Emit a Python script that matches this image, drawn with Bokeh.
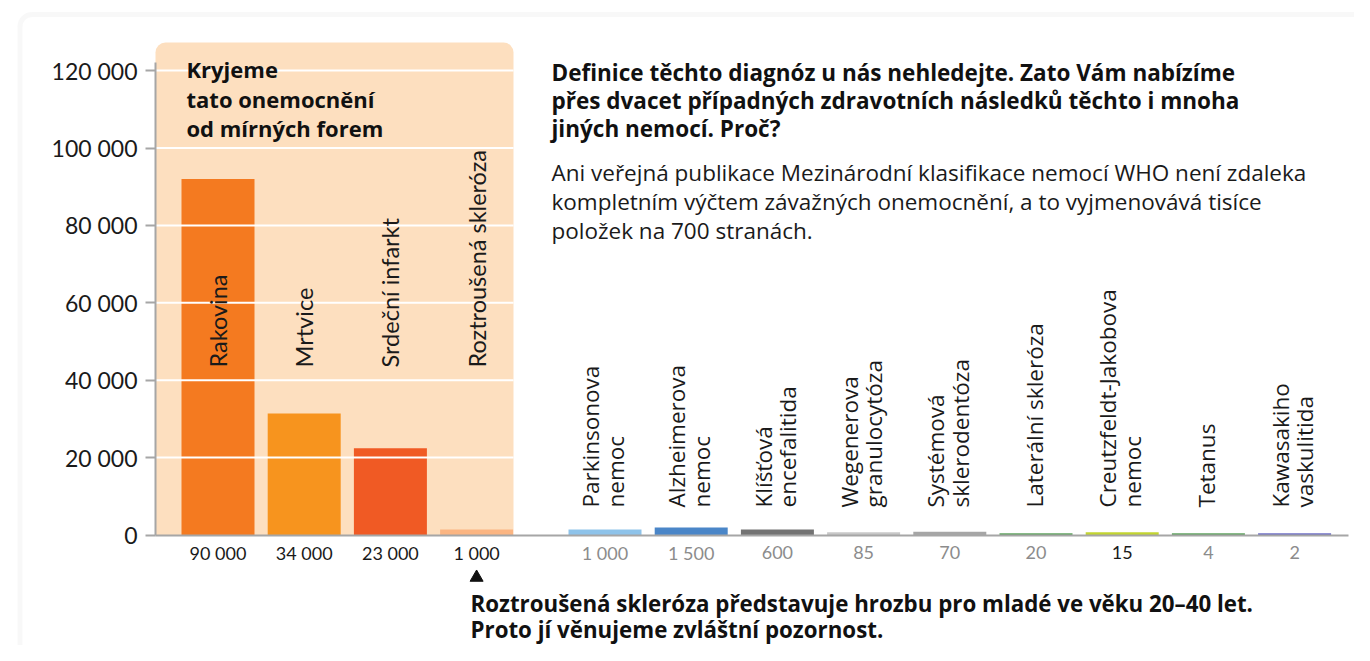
import numpy as np
from bokeh.plotting import figure
from bokeh.models import Range1d, FixedTicker, BoxAnnotation
from bokeh.core.properties import value
from bokeh.embed import file_html
from bokeh.resources import INLINE

# ---------------- data ----------------
main_names = ["Rakovina", "Mrtvice", "Srdeční infarkt", "Roztroušená skleróza"]
main_values = [92000, 31400, 22400, 1400]
main_labels = ["90 000", "34 000", "23 000", "1 000"]

other_names = [["Parkinsonova", "nemoc"], ["Alzheimerova", "nemoc"],
               ["Klíšťová", "encefalitida"], ["Wegenerova", "granulocytóza"],
               ["Systémová", "sklerodentóza"], ["Laterální skleróza"],
               ["Creutzfeldt-Jakobova", "nemoc"], ["Tetanus"],
               ["Kawasakiho", "vaskulitida"]]
other_values = [1400, 1950, 1400, 720, 820, 470, 720, 470, 470]
other_labels = ["1 000", "1 500", "600", "85", "70", "20", "15", "4", "2"]

y_ticks = [0, 20000, 40000, 60000, 80000, 100000, 120000]
y_tick_labels = ["0", "20 000", "40 000", "60 000", "80 000", "100 000", "120 000"]

box_title = ["Kryjeme", "tato onemocnění", "od mírných forem"]
headline = ["Definice těchto diagnóz u nás nehledejte. Zato Vám nabízíme",
            "přes dvacet případných zdravotních následků těchto i mnoha",
            "jiných nemocí. Proč?"]
paragraph = ["Ani veřejná publikace Mezinárodní klasifikace nemocí WHO není zdaleka",
             "kompletním výčtem závažných onemocnění, a to vyjmenovává tisíce",
             "položek na 700 stranách."]
note = ["Roztroušená skleróza představuje hrozbu pro mladé ve věku 20–40 let.",
        "Proto jí věnujeme zvláštní pozornost."]

# ---------------- styles ----------------
main_colors = ["#f47a20", "#f7941e", "#f05a24", "#fbb582"]
other_colors = ["#8ec3ea", "#4a86c8", "#737373", "#c8c8c8", "#a6a6a6",
                "#5fa35f", "#c3d530", "#5fa35f", "#6e6fc6"]
other_label_colors = ["#8c8c8c"] * 9
other_label_colors[6] = "#1a1a1a"
LATO = value("Lato")
OPEN = value("Open Sans")
W, H = 1354, 645

# layout helpers (picture pixel -> data coordinates)
SLOT = 86.2
X0 = 217.5
PXU = 77.4 / 20000
Y0 = 534.5


def xd(px):
    return (px - X0) / SLOT


def yd(py):
    return (Y0 - py) / PXU


GAP = 0.4896
main_x = [float(i) for i in range(len(main_names))]
other_x = [len(main_names) + GAP + i for i in range(len(other_names))]
BAR_W = 73 / SLOT

p = figure(width=W, height=H, output_backend="svg", toolbar_location=None,
           x_range=Range1d(xd(0), xd(W)), y_range=Range1d(yd(H), yd(0)),
           min_border=0, min_border_left=0, min_border_right=0,
           min_border_top=0, min_border_bottom=0)
p.outline_line_color = None
p.background_fill_color = "white"
p.border_fill_color = "white"
p.grid.visible = False

# outer frame
p.add_layout(BoxAnnotation(left=xd(19.5), right=xd(1367), top=yd(14), bottom=yd(900),
                           fill_color=None, line_color="#e8e8e8", line_width=5,
                           border_radius=12, level="underlay"))
# highlighted area
p.add_layout(BoxAnnotation(left=xd(155), right=xd(513), top=yd(42), bottom=0,
                           fill_color="#fddfbf", fill_alpha=1, line_color=None,
                           border_radius=(10, 10, 0, 0), level="underlay"))

# bars
p.vbar(x=main_x, top=main_values, bottom=0, width=BAR_W, color=main_colors, line_color=None)
p.vbar(x=other_x, top=other_values, bottom=0, width=BAR_W, color=other_colors, line_color=None)

# white gridlines within the highlighted area
gl = [t for t in y_ticks if t > 0]
p.segment(x0=[xd(155)] * len(gl), x1=[xd(513)] * len(gl), y0=gl, y1=gl,
          line_color="white", line_width=2)

# axes
ya = p.yaxis[0]
ya.fixed_location = xd(155)
ya.bounds = (0, yd(62))
ya.ticker = FixedTicker(ticks=y_ticks)
ya.major_label_overrides = {t: l for t, l in zip(y_ticks, y_tick_labels)}
ya.axis_line_color = "#a6a6a6"
ya.axis_line_width = 2
ya.major_tick_line_color = "#a6a6a6"
ya.major_tick_line_width = 2
ya.major_tick_out = 10
ya.major_tick_in = 0
ya.minor_tick_line_color = None
ya.major_label_standoff = 8
ya.major_label_text_font = "Lato"
ya.major_label_text_font_size = "23px"
ya.major_label_text_color = "#1a1a1a"

xa = p.xaxis[0]
xa.fixed_location = 0
xa.bounds = (xd(155), xd(1348))
xa.ticker = FixedTicker(ticks=[])
xa.axis_line_color = "#a6a6a6"
xa.axis_line_width = 2
xa.major_tick_line_color = None
xa.minor_tick_line_color = None
xa.major_label_text_font_size = "0px"

# category labels (rotated)
p.text(x=main_x, y=[yd(367)] * len(main_x), text=main_names, angle=np.pi / 2,
       text_align="left", text_baseline="middle", text_font=LATO,
       text_font_size="23.5px", text_color="#1a1a1a")
ox, oy, ot = [], [], []
for xc, lines in zip(other_x, other_names):
    n = len(lines)
    for k, line in enumerate(lines):
        ox.append(xc + ((k - (n - 1) / 2) * 24.5 - 2) / SLOT)
        oy.append(yd(507))
        ot.append(line)
p.text(x=ox, y=oy, text=ot, angle=np.pi / 2, text_align="left", text_baseline="middle",
       text_font=OPEN, text_font_size="22.5px", text_color="#1a1a1a")

# value labels
p.text(x=main_x, y=[yd(552)] * len(main_x), text=main_labels, text_align="center",
       text_baseline="middle", text_font=LATO, text_font_size="18px", text_color="#1a1a1a")
p.text(x=other_x, y=[yd(552)] * len(other_x), text=other_labels, text_align="center",
       text_baseline="middle", text_font=LATO, text_font_size="18px",
       text_color=other_label_colors)

# marker pointing at multiple sclerosis
p.scatter(x=[main_x[3]], y=[yd(577)], marker="triangle", size=13, color="#111111")

# text blocks
p.text(x=[xd(186)] * 3, y=[yd(68.5 + 29.5 * i) for i in range(3)], text=box_title,
       text_align="left", text_baseline="middle", text_font=OPEN, text_font_size="22px",
       text_font_style="bold", text_color="#111111")
p.text(x=[xd(551)] * 3, y=[yd(71.5 + 28 * i) for i in range(3)], text=headline,
       text_align="left", text_baseline="middle", text_font=OPEN, text_font_size="22.5px",
       text_font_style="bold", text_color="#111111")
p.text(x=[xd(551)] * 3, y=[yd(172 + 29 * i) for i in range(3)], text=paragraph,
       text_align="left", text_baseline="middle", text_font=OPEN, text_font_size="22.5px",
       text_color="#1a1a1a")
p.text(x=[xd(470)] * 2, y=[yd(603 + 26 * i) for i in range(2)], text=note,
       text_align="left", text_baseline="middle", text_font=OPEN, text_font_size="22.3px",
       text_font_style="bold", text_color="#111111")

open("out.html", "w").write(file_html(p, INLINE))
